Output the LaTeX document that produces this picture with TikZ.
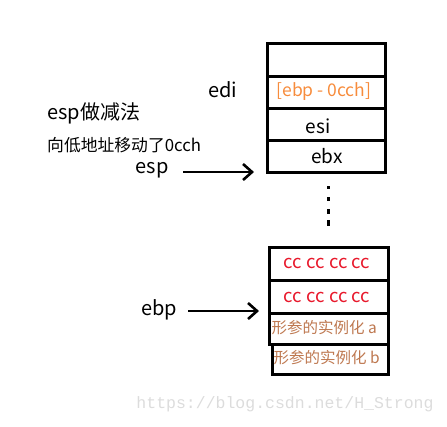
\documentclass[tikz,border=0pt]{standalone}
\usepackage{fontspec}
\setmainfont{Noto Sans CJK SC}
\newfontfamily\wmfont{Liberation Mono}
\usetikzlibrary{arrows.meta}
\definecolor{ocol}{RGB}{247,140,60}
\definecolor{rcol}{RGB}{232,25,44}
\definecolor{bcol}{RGB}{190,120,80}
\definecolor{wcol}{RGB}{220,220,220}
\begin{document}
\begin{tikzpicture}[x=1pt,y=-1pt,
  cell/.style={draw=black,line width=3pt,minimum width=118pt,inner sep=0pt,anchor=north west},
  lbl/.style={inner sep=0pt,font=\fontsize{19}{21}\selectfont},
  arr/.style={line width=2.6pt,-{Straight Barb[length=9pt,width=16pt,line width=2.6pt]}},
  dot/.style={fill=black,draw=none}]
\useasboundingbox (0,0) rectangle (447,426);
% top stack
\node[cell,minimum height=33pt] (t0) at (266,42) {};
\node[cell,minimum height=32pt] (t1) at (266,75) {};
\node[cell,minimum height=32pt] (t2) at (266,107) {};
\node[cell,minimum height=32pt] (t3) at (266,139) {};
\node[lbl,text=ocol,font=\fontsize{17.5}{19}\selectfont] (t1t) at (324,92) {[ebp - 0cch]};
\node[lbl] (t2t) at (318,126) {esi};
\node[lbl] (t3t) at (327,156) {ebx};
% dots
\fill (326.5,185.5) rectangle ++(3,3);
\fill (326.5,197) rectangle ++(3,4);
\fill (326.5,208.5) rectangle ++(3,5);
\fill (326.5,220) rectangle ++(3,6);
% bottom stack
\node[cell,minimum width=119pt,minimum height=33pt] (b1) at (268,246) {};
\node[cell,minimum width=119pt,minimum height=33pt] (b2) at (268,279) {};
\node[cell,minimum width=119pt,minimum height=31pt] (b3) at (268,312) {};
\node[cell,minimum width=116pt,minimum height=30pt] (b4) at (271,343) {};
\node[lbl,text=rcol,font=\fontsize{18.5}{20}\selectfont] (b1t) at (327,263) {cc cc cc cc};
\node[lbl,text=rcol,font=\fontsize{18.5}{20}\selectfont] (b2t) at (327,297) {cc cc cc cc};
\node[lbl,text=bcol,anchor=west,font=\fontsize{15.5}{17}\selectfont] (b3t) at (271.5,328) {形参的实例化 a};
\node[lbl,text=bcol,anchor=west,font=\fontsize{15.5}{17}\selectfont] (b4t) at (273.5,358) {形参的实例化 b};
% labels
\node[lbl,font=\fontsize{20}{22}\selectfont] (edi) at (223,90) {edi};
\node[lbl,anchor=west,font=\fontsize{20}{22}\selectfont] (sub) at (47,113) {esp做减法};
\node[lbl,anchor=west,font=\fontsize{16.8}{18}\selectfont] (move) at (47,145) {向低地址移动了0cch};
\node[lbl,font=\fontsize{20}{22}\selectfont] (esp) at (152,170) {esp};
\node[lbl,font=\fontsize{20}{22}\selectfont] (ebp) at (159,310) {ebp};
% arrows
\coordinate (espA) at (183,172);
\coordinate (espB) at (254,172);
\coordinate (ebpA) at (188,311);
\coordinate (ebpB) at (259,311);
\draw[arr] (espA) -- (espB);
\draw[arr] (ebpA) -- (ebpB);
% watermark
\node[inner sep=0pt,text=wcol,font=\wmfont\fontsize{16.5}{18}\selectfont] (wm) at (285,404) {https://blog.csdn.net/H\_Strong};
\end{tikzpicture}
\end{document}
